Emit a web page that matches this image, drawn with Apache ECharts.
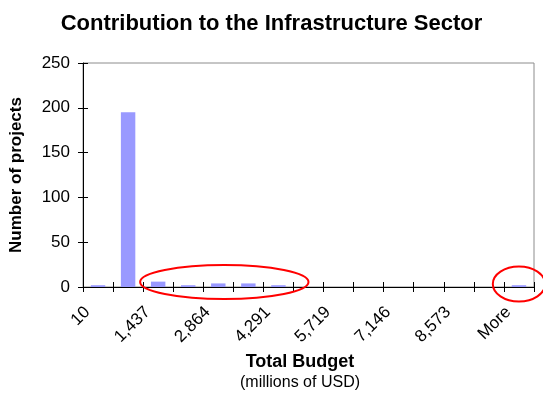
<!DOCTYPE html>
<html>
<head>
<meta charset="utf-8">
<script src="https://cdn.jsdelivr.net/npm/echarts@6/dist/echarts.min.js"></script>
<style>
  html, body { margin: 0; padding: 0; background: #fff; }
  #chart { width: 543px; height: 394px; }
</style>
</head>
<body>
<div id="chart"></div>
<script>
// Histogram bins (upper bounds of total budget, millions of USD)
const bins = ['10', '724', '1,437', '2,151', '2,864', '3,578', '4,291', '5,005',
              '5,719', '6,432', '7,146', '7,859', '8,573', '9,287', 'More'];
// Number of projects per bin
const projects = [2, 195, 6, 2, 4, 4, 2, 0, 0, 0, 0, 0, 0, 0, 2];
// Count axis ticks
const yMin = 0, yMax = 250, yStep = 50;

const FONT = '"Liberation Sans", Arial, sans-serif';
const chart = echarts.init(document.getElementById('chart'), null, { renderer: 'canvas' });

const hiddenAxisParts = {
  axisLine: { show: false },
  axisLabel: { show: false },
  splitLine: { show: false }
};

chart.setOption({
  animation: false,
  backgroundColor: '#ffffff',
  title: {
    text: 'Contribution to the Infrastructure Sector',
    left: 'center',
    top: 8,
    textStyle: { fontFamily: FONT, fontSize: 22, fontWeight: 'bold', color: '#000' }
  },
  grid: {
    left: 83, right: 9, top: 63, bottom: 107,
    show: true, borderColor: '#8c8c8c', borderWidth: 1, backgroundColor: 'transparent'
  },
  xAxis: [{
    type: 'category',
    data: bins,
    boundaryGap: true,
    axisLine: { lineStyle: { color: '#000', width: 1 } },
    axisTick: { show: true, interval: 0, length: 5, lineStyle: { color: '#000' } },
    axisLabel: {
      interval: 1, rotate: 45, margin: 12, padding: [0, 15, 0, 0],
      fontFamily: FONT, fontSize: 17, color: '#000'
    },
    splitLine: { show: false }
  }, {
    // inward half of the cross tick marks
    type: 'category',
    data: bins,
    position: 'bottom',
    axisTick: { show: true, inside: true, interval: 0, length: 5, lineStyle: { color: '#000' } },
    ...hiddenAxisParts
  }],
  yAxis: [{
    type: 'value',
    min: yMin, max: yMax, interval: yStep,
    name: 'Number of projects',
    nameLocation: 'middle',
    nameGap: 58,
    nameTextStyle: { fontFamily: FONT, fontSize: 17, fontWeight: 'bold', color: '#000' },
    axisLine: { show: true, lineStyle: { color: '#000', width: 1 } },
    axisTick: { show: true, length: 5, lineStyle: { color: '#000' } },
    axisLabel: { fontFamily: FONT, fontSize: 17, color: '#000', margin: 13 },
    splitLine: { show: false }
  }, {
    type: 'value',
    min: yMin, max: yMax, interval: yStep,
    position: 'left',
    axisTick: { show: true, inside: true, length: 5, lineStyle: { color: '#000' } },
    ...hiddenAxisParts
  }],
  series: [{
    type: 'bar',
    data: projects,
    barWidth: '48%',
    z: 5,
    itemStyle: { color: '#9999ff' }
  }]
});

// Axis titles below the chart and the two highlight ellipses
function drawOverlay() {
  const px = i => chart.convertToPixel({ xAxisIndex: 0 }, i);
  const y0 = chart.convertToPixel({ yAxisIndex: 0 }, 0);
  const step = px(1) - px(0);
  chart.setOption({
    graphic: [
      {
        type: 'text', x: 300, y: 353,
        style: { text: 'Total Budget', font: 'bold 18px ' + FONT, fill: '#000',
                 align: 'center', verticalAlign: 'top' }
      },
      {
        type: 'text', x: 300, y: 375,
        style: { text: '(millions of USD)', font: '16px ' + FONT, fill: '#000',
                 align: 'center', verticalAlign: 'top' }
      },
      {
        type: 'ellipse', z: 100,
        shape: { cx: px(4) + 0.2 * step, cy: y0 - 5, rx: 2.8 * step, ry: 17 },
        style: { fill: 'none', stroke: '#ff0000', lineWidth: 2 }
      },
      {
        type: 'ellipse', z: 100,
        shape: { cx: px(14), cy: y0 - 3, rx: 0.87 * step, ry: 17.5 },
        style: { fill: 'none', stroke: '#ff0000', lineWidth: 2 }
      }
    ]
  });
}
drawOverlay();
</script>
</body>
</html>
